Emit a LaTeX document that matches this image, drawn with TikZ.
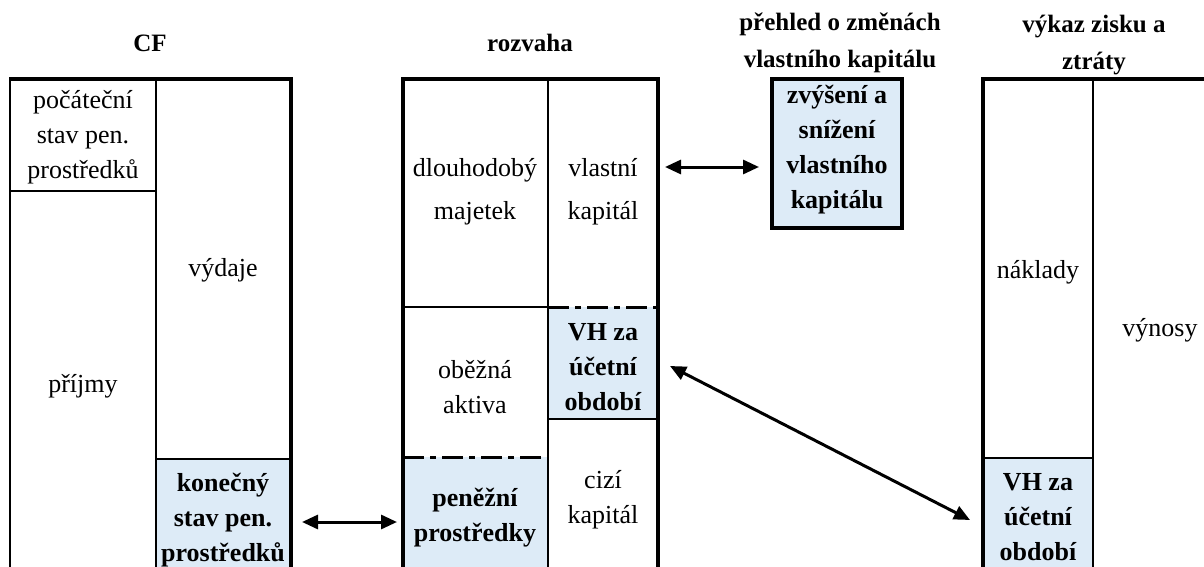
\documentclass[tikz,border=0pt]{standalone}
\usepackage{fontspec}
\setmainfont{Liberation Serif}
\usetikzlibrary{arrows.meta}
\definecolor{cellblue}{RGB}{221,235,247}
\begin{document}
\begin{tikzpicture}[x=1pt,y=-1pt,
  txt/.style={align=center, font=\fontsize{26}{35}\selectfont, inner sep=0pt},
  txtw/.style={align=center, font=\fontsize{26}{43}\selectfont, inner sep=0pt},
  btxt/.style={align=center, font=\fontsize{26}{35}\selectfont\bfseries, inner sep=0pt},
  ttl/.style={align=center, font=\fontsize{25}{37}\selectfont\bfseries, inner sep=0pt},
  frame/.style={line width=3.5pt},
  thinframe/.style={line width=2.5pt},
  inner/.style={line width=2pt},
  dd/.style={line width=3pt, dash pattern=on 21pt off 6pt on 6pt off 6pt},
  dbl/.style={line width=3pt, {Triangle[length=16pt,width=14pt]}-{Triangle[length=16pt,width=14pt]}},
]
\useasboundingbox (0,0) rectangle (1204,567);
% fills
\fill[cellblue] (157,459) rectangle (290,567);
\fill[cellblue] (403,457) rectangle (548,567);
\fill[cellblue] (548,307) rectangle (658,419);
\fill[cellblue] (983,458) rectangle (1093,567);
\fill[cellblue] (772,79) rectangle (902,228);
% CF
\draw[thinframe] (10,79) -- (10,567);
\draw[frame] (9,79) -- (291,79) -- (291,567);
\draw[inner] (156,79) -- (156,567);
\draw[inner] (10,191) -- (156,191);
\draw[inner] (156,459) -- (291,459);
% rozvaha
\draw[frame] (403,567) |- (658,79) -- (658,567);
\draw[inner] (548,79) -- (548,567);
\draw[inner] (403,307) -- (548,307);
\draw[dd] (548,307) -- (658,307);
\draw[inner] (548,419) -- (658,419);
\draw[dd] (403,457) -- (548,457);
% prehled
\draw[frame] (772,79) rectangle (902,228);
% vykaz
\draw[frame] (983,567) |- (1204,79);
\draw[inner] (1093,79) -- (1093,567);
\draw[inner] (983,458) -- (1093,458);
% titles
\node[ttl] (tCF) at (150,43) {CF};
\node[ttl] (tRoz) at (530,43) {rozvaha};
\node[ttl] (tPre) at (840,43) {přehled o změnách\\vlastního kapitálu};
\node[ttl] (tVyk) at (1094,45) {výkaz zisku a\\ztráty};
% cell texts
\node[txt] (poc) at (83,137) {počáteční\\stav pen.\\prostředků};
\node[txt] (prij) at (83,386) {příjmy};
\node[txt] (vyd) at (223,270) {výdaje};
\node[btxt] (kon) at (223,520) {konečný\\stav pen.\\prostředků};
\node[txtw] (dlm) at (475,192) {dlouhodobý\\majetek};
\node[txtw] (vlk) at (603,192) {vlastní\\kapitál};
\node[txt] (oba) at (475,387) {oběžná\\aktiva};
\node[btxt] (vhr) at (603,367) {VH za\\účetní\\období};
\node[txt] (cik) at (603,500) {cizí\\kapitál};
\node[btxt] (pen) at (475,518) {peněžní\\prostředky};
\node[btxt] (zvy) at (837,150) {zvýšení a\\snížení\\vlastního\\kapitálu};
\node[txt] (nak) at (1038,272) {náklady};
\node[txt] (vyn) at (1160,330) {výnosy};
\node[btxt] (vhv) at (1038,517) {VH za\\účetní\\období};
% arrows
\coordinate (a1) at (302,522);
\coordinate (a2) at (397,522);
\coordinate (b1) at (665,167);
\coordinate (b2) at (759,167);
\coordinate (c1) at (670,366);
\coordinate (c2) at (970,520);
\draw[dbl] (a1) -- (a2);
\draw[dbl] (b1) -- (b2);
\draw[dbl] (c1) -- (c2);
\end{tikzpicture}
\end{document}
